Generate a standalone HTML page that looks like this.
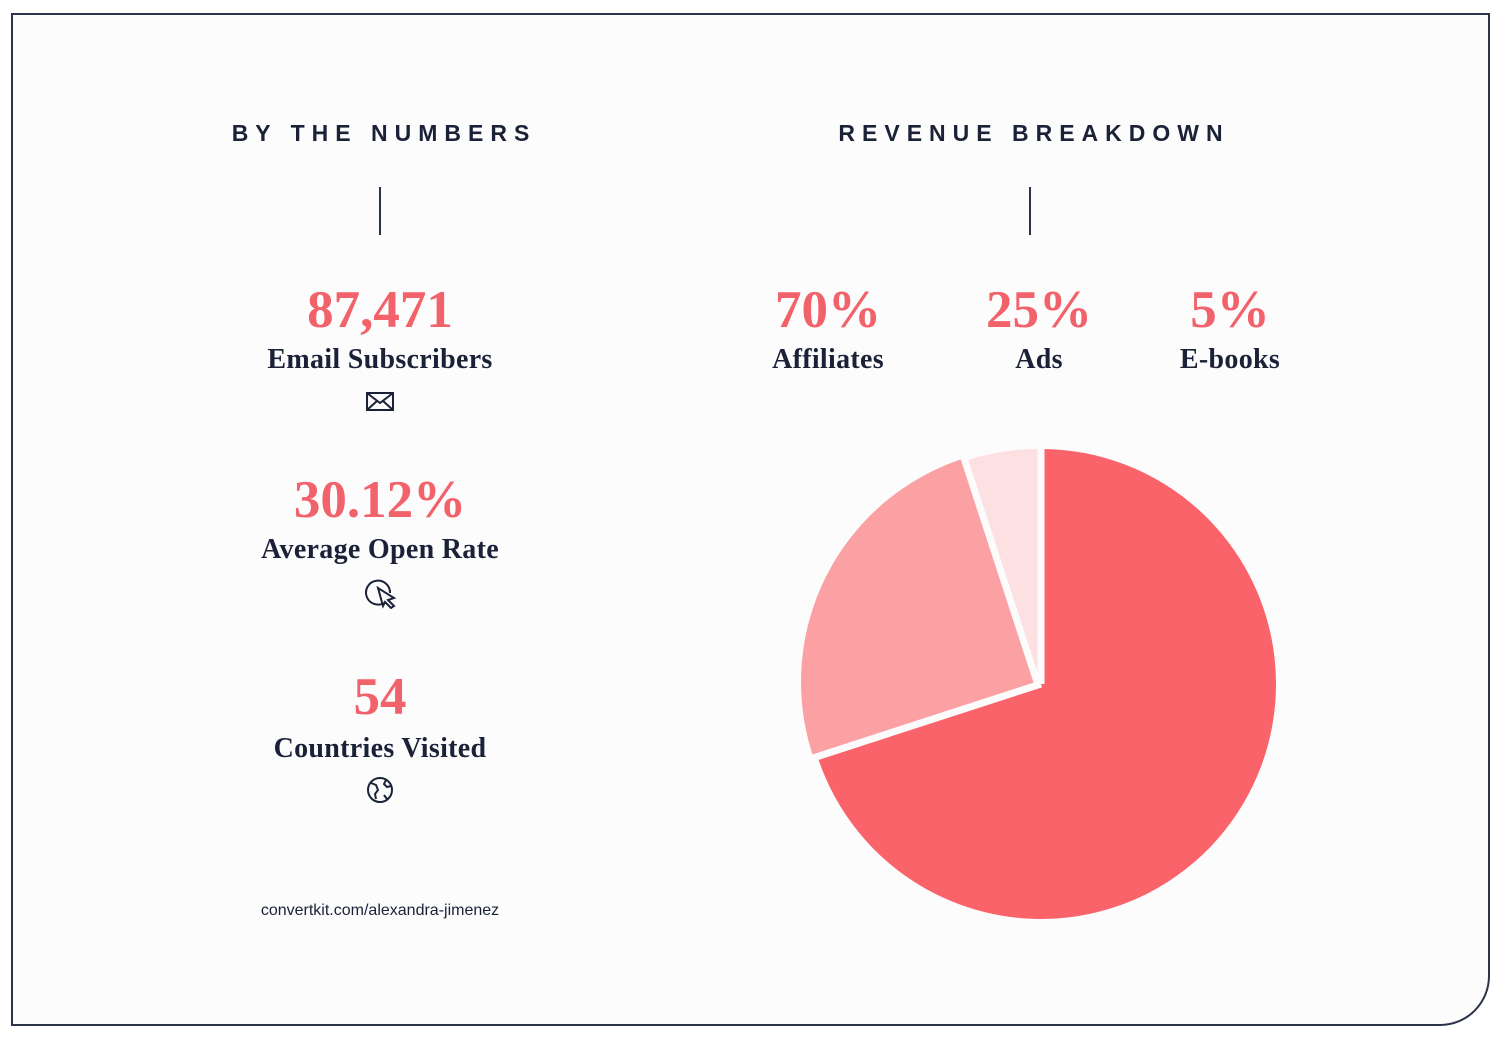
<!DOCTYPE html>
<html><head><meta charset="utf-8"><style>
body{margin:0;width:1500px;height:1039px;background:#fff;position:relative;overflow:hidden;font-family:"Liberation Serif",serif;color:#1b2238}
.frame{position:absolute;left:11px;top:13px;width:1475px;height:1009px;border:2px solid #2a3348;border-bottom-right-radius:50px;background:#fcfcfd}
.t{position:absolute;text-align:center;transform:translateX(-50%);white-space:nowrap}
.h{font-family:"Liberation Sans",sans-serif;font-weight:bold;font-size:23px;letter-spacing:7px;top:120px}
.n{color:#f2626a;font-size:53px;font-weight:bold}
.l{font-size:28px;font-weight:bold;letter-spacing:0.3px}
.vl{position:absolute;width:2px;height:48px;background:#2a3348;top:187px}
</style></head><body>
<div class="frame"></div>
<div class="t h" style="left:384px">BY THE NUMBERS</div>
<div class="t h" style="left:1034px">REVENUE BREAKDOWN</div>
<div class="vl" style="left:379px"></div>
<div class="vl" style="left:1029px"></div>

<div class="t n" style="left:380px;top:280px">87,471</div>
<div class="t l" style="left:380px;top:344px">Email Subscribers</div>
<div class="t n" style="left:380px;top:470px">30.12%</div>
<div class="t l" style="left:380px;top:534px">Average Open Rate</div>
<div class="t n" style="left:380px;top:667px">54</div>
<div class="t l" style="left:380px;top:733px">Countries Visited</div>
<div class="t" style="left:380px;top:902px;font-family:'Liberation Sans',sans-serif;font-size:16px">convertkit.com/alexandra-jimenez</div>

<div class="t n" style="left:828px;top:280px">70%</div>
<div class="t l" style="left:828px;top:344px">Affiliates</div>
<div class="t n" style="left:1039px;top:280px">25%</div>
<div class="t l" style="left:1039px;top:344px">Ads</div>
<div class="t n" style="left:1230px;top:280px">5%</div>
<div class="t l" style="left:1230px;top:344px">E-books</div>

<svg width="1500" height="1039" style="position:absolute;left:0;top:0">
<g fill="none" stroke="#1b2238" stroke-width="2">
<rect x="367" y="393" width="26" height="17"/><path d="M367 393 L380 403 L393 393 M367 410 L377 401 M393 410 L383 401"/>
<path d="M384 603 A12 12 0 1 1 390 593" /><path d="M378 588 L394 598 L388 600 L394 606 L391 608 L385 602 L383 606 Z"/>
<circle cx="380" cy="790" r="12"/><path d="M371 783 l5 2 l2 5 l-3 4 l1 5 M386 780 l-2 4 l3 3 l4 -1 M384 795 l3 4"/>
</g>
<path d="M1041 684 L1041 449 A235 235 0 1 1 817.5 756.6 Z" fill="#fb636b"/>
<path d="M1036 682 L812.5 754.6 A235 235 0 0 1 963.4 458.5 Z" fill="#fba1a4"/>
<path d="M1039 682 L966.4 460.5 A235 235 0 0 1 1039 449 Z" fill="#fde0e2"/>
<g stroke="#fcfcfd" stroke-width="7">
<path d="M1041 684 L1041 440 M1041 684 L810 759 M1037 682 L962 452"/>
</g>
</svg>
</body></html>
